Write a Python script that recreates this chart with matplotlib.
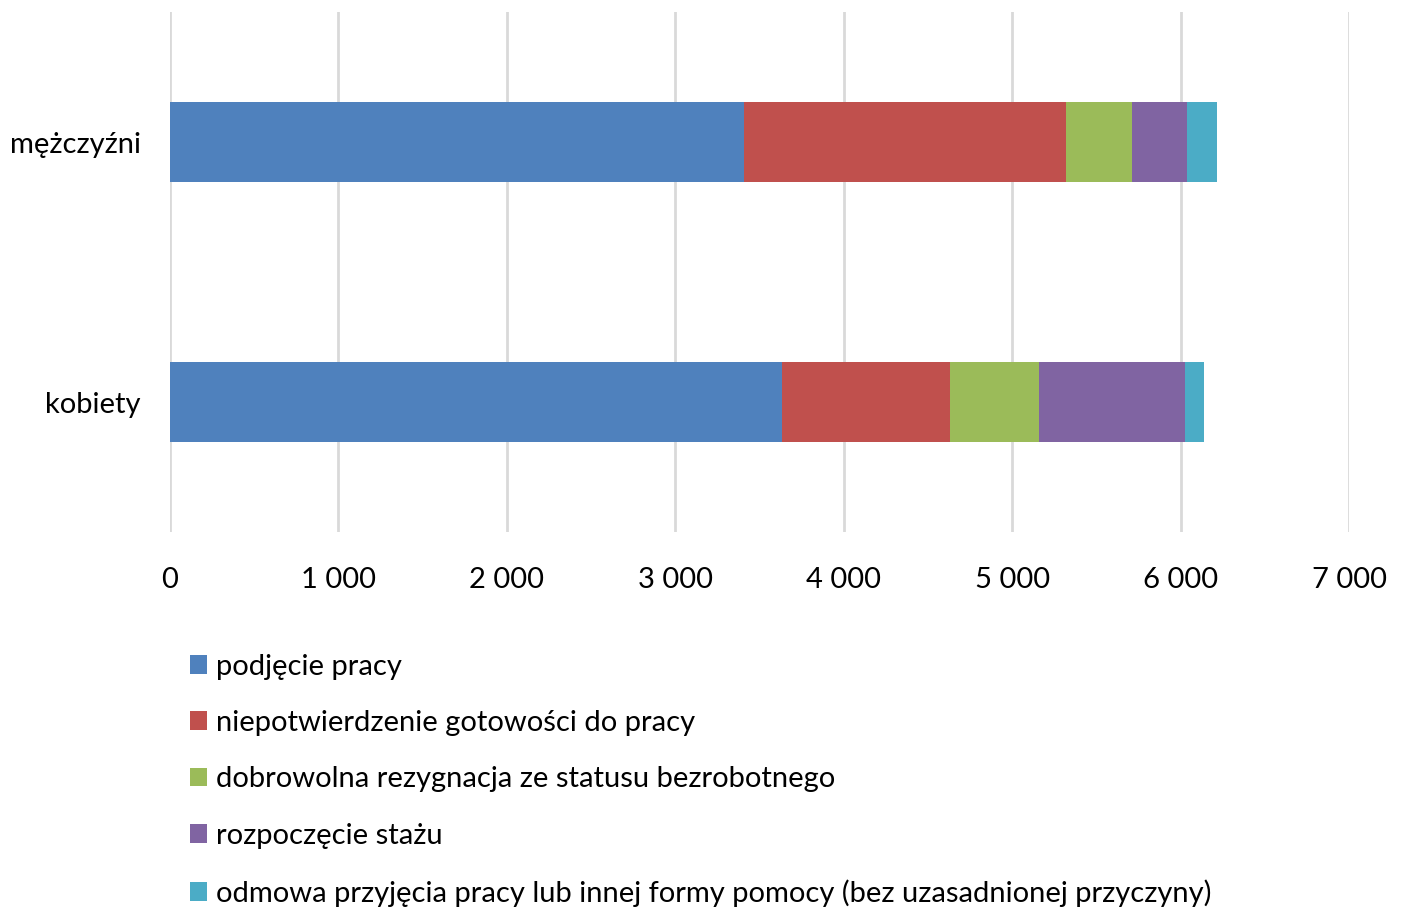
import matplotlib
matplotlib.use("Agg")
import matplotlib.pyplot as plt
from matplotlib.ticker import FuncFormatter

categories = ["kobiety", "mężczyźni"]
series_names = [
    "podjęcie pracy",
    "niepotwierdzenie gotowości do pracy",
    "dobrowolna rezygnacja ze statusu bezrobotnego",
    "rozpoczęcie stażu",
    "odmowa przyjęcia pracy lub innej formy pomocy (bez uzasadnionej przyczyny)",
]
podjecie = [3634, 3407]
niepotwierdzenie = [999, 1915]
rezygnacja = [526, 387]
staz = [865, 327]
odmowa = [114, 180]
colors = ["#4f81bd", "#c0504d", "#9bbb59", "#8064a2", "#4bacc6"]

plt.rcParams['font.family'] = ['Lato', 'DejaVu Sans']
FS = 21

fig = plt.figure(figsize=(14.05, 9.08), dpi=100)
ax = fig.add_axes([170/1405, 1-532/908, (1349-170)/1405, (532-12)/908])

series = [podjecie, niepotwierdzenie, rezygnacja, staz, odmowa]
left = [0, 0]
ypos = list(range(len(categories)))
for name, vals, c in zip(series_names, series, colors):
    ax.barh(ypos, vals, left=left, height=0.31, color=c, label=name, zorder=3)
    left = [l + v for l, v in zip(left, vals)]

ax.set_xlim(0, 7000)
ax.set_ylim(-0.5, 1.5)
ax.set_xticks(range(0, 7001, 1000))
ax.xaxis.set_major_formatter(FuncFormatter(lambda v, p: f"{int(v):,}".replace(",", " ")))
ax.set_yticks(ypos)
ax.set_yticklabels(categories)
ax.grid(axis='x', color='#d9d9d9', linewidth=2, zorder=0)
for s in ax.spines.values():
    s.set_visible(False)
ax.tick_params(axis='both', length=0, labelsize=FS, colors='#000000')
ax.tick_params(axis='x', pad=25)
ax.tick_params(axis='y', pad=21)

handles, labels = ax.get_legend_handles_labels()
fig.legend(handles, labels, loc='upper left', bbox_to_anchor=(178/1405, 1-642/908),
           frameon=False, fontsize=FS, handlelength=0.6, handleheight=0.6,
           handletextpad=0.3, labelspacing=1.04, borderaxespad=0)

fig.savefig("out.png", dpi=100)
